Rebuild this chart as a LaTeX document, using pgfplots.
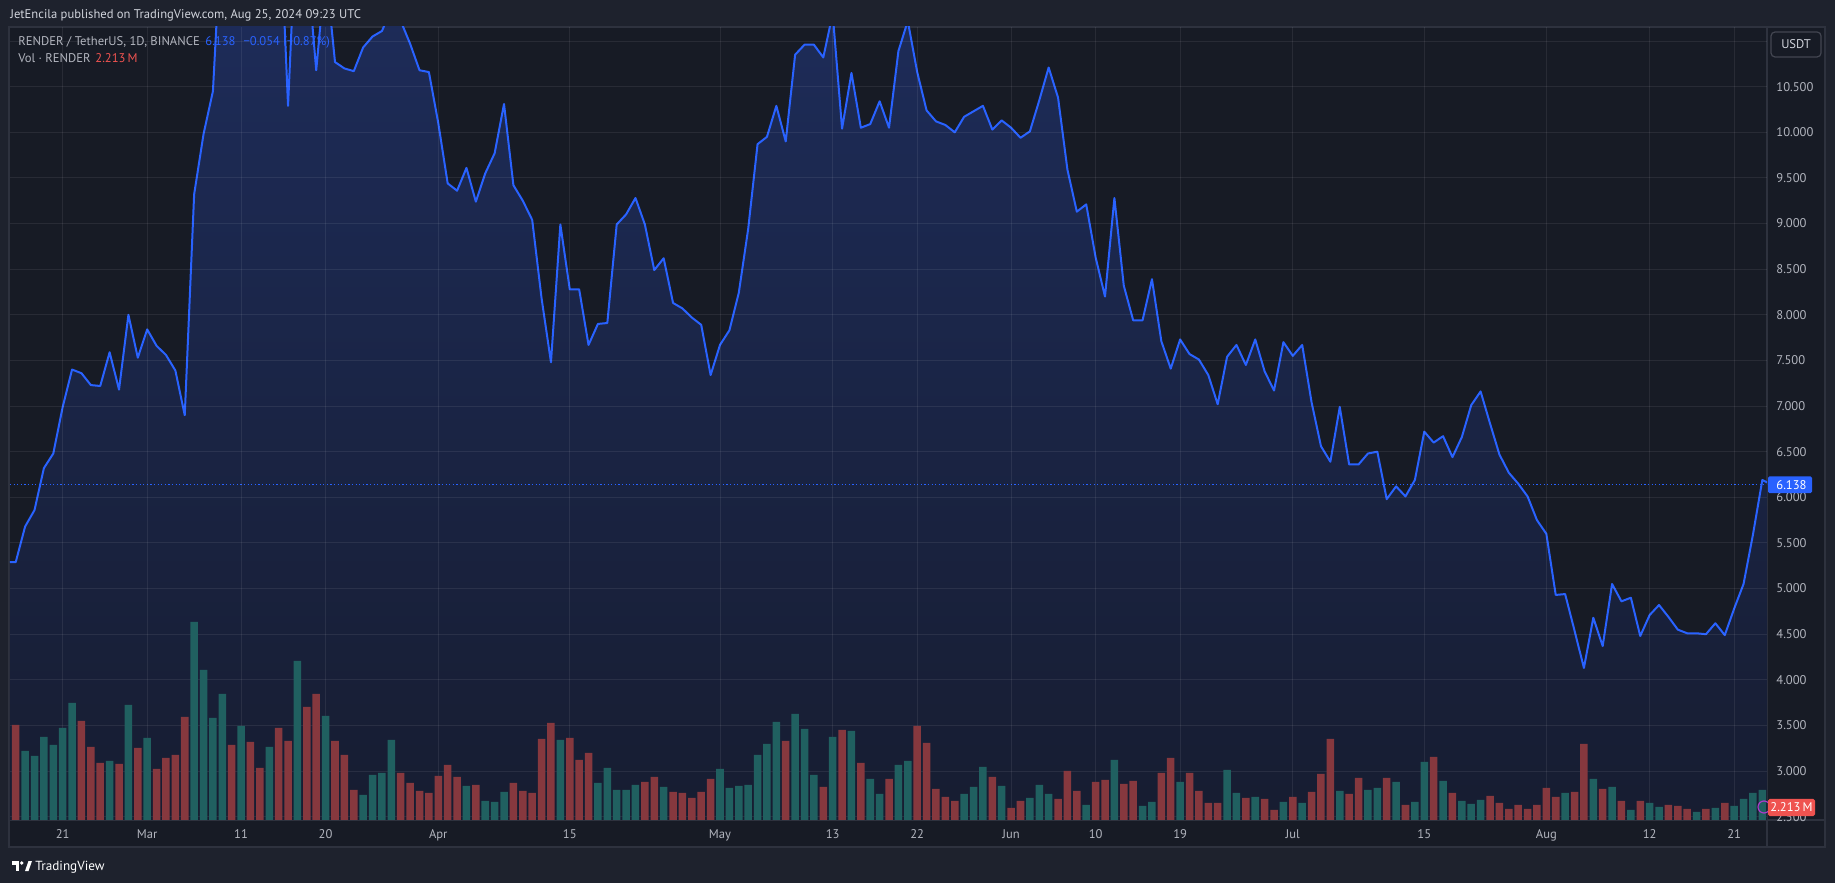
\documentclass[border=0pt]{standalone}
\usepackage{pgfplots}
\pgfplotsset{compat=1.18}
\usepackage{pgfplotstable}
\usepackage{fontspec}
\setmainfont{PT Sans}
\definecolor{outerbg}{RGB}{30,34,45}
\definecolor{chartbg}{RGB}{23,27,37}
\definecolor{sepc}{RGB}{46,50,62}
\definecolor{tvblue}{RGB}{41,98,255}
\definecolor{txtgray}{RGB}{178,181,190}
\definecolor{txtlight}{RGB}{209,212,220}
\definecolor{volup}{RGB}{32,96,96}
\definecolor{voldn}{RGB}{134,56,62}
\definecolor{tvred}{RGB}{239,83,80}
\definecolor{filltop}{RGB}{32,50,106}
\definecolor{fillbot}{RGB}{22,27,44}
\definecolor{usdtborder}{RGB}{67,70,81}
\definecolor{alertc}{RGB}{170,60,200}
\pgfdeclareverticalshading{tvfill}{100bp}{color(0bp)=(fillbot); color(20bp)=(fillbot); color(85bp)=(filltop); color(100bp)=(filltop)}
\newcommand\tvf{\fontsize{6.3}{7.2}\selectfont}

\pgfplotstableread{
i p
-6 5.29
-5 5.29
-4 5.68
-3 5.86
-2 6.32
-1 6.48
0 6.99
1 7.40
2 7.36
3 7.23
4 7.22
5 7.59
6 7.18
7 8.00
8 7.53
9 7.84
10 7.66
11 7.56
12 7.39
13 6.90
14 9.32
15 9.98
16 10.45
17 12.4
18 12.0
19 12.3
20 12.6
21 12.9
22 13.1
23 12.7
24 10.29
25 12.6
26 11.9
27 10.68
28 11.8
29 10.77
30 10.70
31 10.67
32 10.93
33 11.05
34 11.11
35 11.35
36 11.22
37 10.97
38 10.68
39 10.66
40 10.10
41 9.44
42 9.36
43 9.61
44 9.24
45 9.55
46 9.77
47 10.31
48 9.42
49 9.25
50 9.04
51 8.18
52 7.48
53 8.99
54 8.28
55 8.28
56 7.67
57 7.90
58 7.91
59 8.99
60 9.10
61 9.28
62 8.99
63 8.49
64 8.62
65 8.13
66 8.07
67 7.97
68 7.89
69 7.34
70 7.67
71 7.83
72 8.24
73 8.94
74 9.87
75 9.95
76 10.29
77 9.90
78 10.85
79 10.96
80 10.96
81 10.82
82 11.30
83 10.04
84 10.65
85 10.05
86 10.09
87 10.34
88 10.05
89 10.89
90 11.22
91 10.66
92 10.24
93 10.12
94 10.08
95 10.00
96 10.17
97 10.23
98 10.29
99 10.03
100 10.13
101 10.05
102 9.94
103 10.01
104 10.35
105 10.71
106 10.38
107 9.59
108 9.13
109 9.21
110 8.63
111 8.20
112 9.28
113 8.32
114 7.94
115 7.94
116 8.39
117 7.71
118 7.41
119 7.73
120 7.57
121 7.51
122 7.34
123 7.02
124 7.54
125 7.67
126 7.45
127 7.73
128 7.38
129 7.17
130 7.70
131 7.55
132 7.67
133 7.04
134 6.56
135 6.39
136 6.99
137 6.36
138 6.36
139 6.48
140 6.50
141 5.98
142 6.12
143 6.01
144 6.19
145 6.72
146 6.60
147 6.67
148 6.44
149 6.66
150 7.01
151 7.16
152 6.81
153 6.47
154 6.27
155 6.15
156 6.01
157 5.75
158 5.60
159 4.93
160 4.94
161 4.54
162 4.13
163 4.68
164 4.37
165 5.05
166 4.86
167 4.90
168 4.48
169 4.71
170 4.82
171 4.69
172 4.55
173 4.51
174 4.51
175 4.50
176 4.62
177 4.49
178 4.78
179 5.05
180 5.59
181 6.19
182 6.138
}\price

\pgfplotstableread{
i v
-4 6.90
-3 6.40
-2 8.30
-1 7.50
0 9.20
1 11.70
5 5.90
7 11.50
9 8.20
14 19.80
15 15.00
16 10.20
17 12.60
19 9.40
22 7.30
25 15.90
28 10.40
32 2.50
33 4.50
34 4.70
35 8.00
43 3.40
45 1.90
46 1.80
47 2.80
53 8.00
57 3.70
58 5.20
59 3.00
60 3.00
61 3.50
64 3.30
70 5.10
71 3.20
72 3.40
73 3.50
74 6.50
75 7.60
76 9.80
78 10.60
79 9.10
80 4.50
82 8.30
84 8.90
86 4.10
87 2.60
89 5.50
90 5.90
96 2.60
97 3.30
98 5.30
100 3.40
103 2.20
104 3.50
105 2.60
109 1.50
112 6.00
115 1.40
116 1.80
119 3.80
124 5.00
125 2.70
127 2.30
130 1.80
132 1.70
136 2.90
139 3.00
140 3.20
142 3.80
144 1.80
145 5.80
147 3.90
149 1.90
150 1.60
151 2.00
160 2.70
163 4.10
165 3.30
167 1.00
169 1.70
170 1.30
174 0.80
176 1.20
178 1.40
179 2.10
180 2.70
181 3.00
}\volupt

\pgfplotstableread{
i v
-5 9.50
2 9.90
3 7.30
4 5.70
6 5.60
8 7.20
10 5.10
11 6.20
12 6.50
13 10.30
18 7.50
20 7.80
21 5.20
23 9.20
24 7.90
26 11.30
27 12.60
29 7.90
30 6.50
31 3.00
36 4.70
37 3.70
38 2.90
39 2.70
40 4.40
41 5.50
42 4.30
44 3.50
48 3.70
49 2.90
50 2.70
51 8.10
52 9.70
54 8.20
55 6.00
56 6.70
62 3.80
63 4.30
65 2.80
66 2.70
67 2.20
68 2.80
69 4.10
77 7.90
81 3.30
83 9.00
85 5.70
88 4.10
91 9.40
92 7.70
93 3.10
94 2.30
95 1.90
99 4.30
101 1.20
102 1.90
106 2.10
107 4.90
108 2.90
110 3.80
111 4.00
113 3.60
114 3.90
117 4.70
118 6.20
120 4.70
121 2.90
122 1.70
123 1.70
126 2.20
128 2.10
129 1.00
131 2.30
133 2.80
134 4.60
135 8.10
137 2.60
138 4.20
141 4.20
143 1.50
146 6.30
148 2.70
152 2.40
153 1.70
154 1.10
155 1.50
156 1.10
157 1.50
158 3.20
159 2.30
161 2.80
162 7.60
164 3.10
166 1.90
168 1.90
171 1.50
172 1.40
173 1.10
175 1.10
177 1.70
182 2.213
}\voldnt

\begin{document}
\begin{tikzpicture}
\begin{scope}[x=0.5pt,y=-0.5pt,yshift=441.5pt]
\fill[outerbg] (0,0) rectangle (1835,883);
\fill[chartbg] (9,27) rectangle (1825,847);
\draw[sepc,line width=0.6pt] (9,27) rectangle (1825,847);
\draw[sepc,line width=0.6pt] (1767,27) -- (1767,847);
\draw[sepc,line width=0.6pt] (9,820) -- (1825,820);
\end{scope}

\begin{axis}[
  at={(5pt,31.5pt)}, anchor=south west, scale only axis,
  width=878.5pt, height=396.5pt,
  xmin=-5.61, xmax=181.5, ymin=2.464, ymax=11.154,
  axis on top,
  axis line style={draw=none},
  tick style={draw=none},
  major tick length=0pt,
  grid=major,
  major grid style={line width=0.5pt, draw=white, draw opacity=0.075},
  xtick={0,9,19,28,40,54,70,82,91,101,110,119,131,145,158,169,178},
  xticklabels={21,Mar,11,20,Apr,15,May,13,22,Jun,10,19,Jul,15,Aug,12,21},
  ytick={2.5,3,3.5,4,4.5,5,5.5,6,6.5,7,7.5,8,8.5,9,9.5,10,10.5,11},
  yticklabels={2.500,3.000,3.500,4.000,4.500,5.000,5.500,6.000,6.500,7.000,7.500,8.000,8.500,9.000,9.500,10.000,10.500,{}},
  yticklabel pos=right,
  yticklabel style={anchor=base west, inner sep=0pt, xshift=4.5pt, yshift=-2.2pt, text=txtgray, font=\tvf},
  xticklabel style={anchor=base, inner sep=0pt, yshift=-9.2pt, text=txtgray, font=\tvf},
]
\addplot[draw=none, shading=tvfill] table[x=i,y=p]{\price} \closedcycle;
\addplot[tvblue, line width=0.5pt, dash pattern=on 0.6pt off 1.2pt] coordinates {(-6,6.138) (182,6.138)};
\addplot[tvblue, line width=1pt, line join=round] table[x=i,y=p]{\price};
\coordinate (plabel) at (axis cs:181.5,6.138);
\end{axis}

\begin{axis}[
  at={(5pt,31.5pt)}, anchor=south west, scale only axis,
  width=878.5pt, height=396.5pt,
  xmin=-5.61, xmax=181.5, ymin=0, ymax=79.3,
  hide axis, ybar, bar width=0.8,
]
\addplot[fill=volup, draw=none, bar shift=0pt] table[x=i,y=v]{\volupt};
\addplot[fill=voldn, draw=none, bar shift=0pt] table[x=i,y=v]{\voldnt};
\end{axis}

\begin{scope}[x=0.5pt,y=-0.5pt,yshift=441.5pt]
\node[anchor=base west, inner sep=0pt, text=txtlight, font=\tvf] at (10,19) {JetEncila published on TradingView.com, Aug 25, 2024 09:23 UTC};
\node[anchor=base west, inner sep=0pt, text=txtgray, font=\tvf] (l1) at (18,46) {RENDER / TetherUS, 1D, BINANCE};
\node[anchor=base west, inner sep=0pt, text=tvblue, font=\tvf] at (205,46) {6.138\hspace{4pt}−0.054 (−0.87\%)};
\node[anchor=base west, inner sep=0pt, text=txtgray, font=\tvf] at (18,63) {Vol · RENDER};
\node[anchor=base west, inner sep=0pt, text=tvred, font=\tvf] at (95,63) {2.213\,M};
\draw[usdtborder, fill=chartbg, rounded corners=2pt, line width=0.6pt] (1771,32) rectangle (1821,57);
\node[text=txtlight, font=\tvf, inner sep=0pt] at (1796,44.5) {USDT};
\draw[alertc, line width=0.6pt] (1764,807) circle (6);
\fill[tvred, rounded corners=0.8pt] (1768,799) rectangle (1815,816);
\node[text=white, font=\tvf, inner sep=0pt] at (1791.5,807.5) {2.213\,M};
\fill[white] (12,861) rectangle (19,864.5);
\fill[white] (15.5,861) rectangle (19,871);
\fill[white] (21.8,863) circle (1.9);
\fill[white] (25,871) -- (28.5,861) -- (32,861) -- (28.5,871) -- cycle;
\node[anchor=base west, inner sep=0pt, text=white, font=\fontsize{6.6}{8}\selectfont] at (35,870) {TradingView};
\end{scope}
\fill[tvblue, rounded corners=0.8pt] ([xshift=0.5pt,yshift=-4.2pt]plabel) rectangle ([xshift=22.5pt,yshift=4.2pt]plabel);
\node[text=white, font=\tvf, inner sep=0pt, anchor=base west] at ([xshift=4.5pt,yshift=-2.2pt]plabel) {6.138};

\pgfresetboundingbox
\path[use as bounding box] (0,0) rectangle (917.5pt,441.5pt);
\end{tikzpicture}
\end{document}
